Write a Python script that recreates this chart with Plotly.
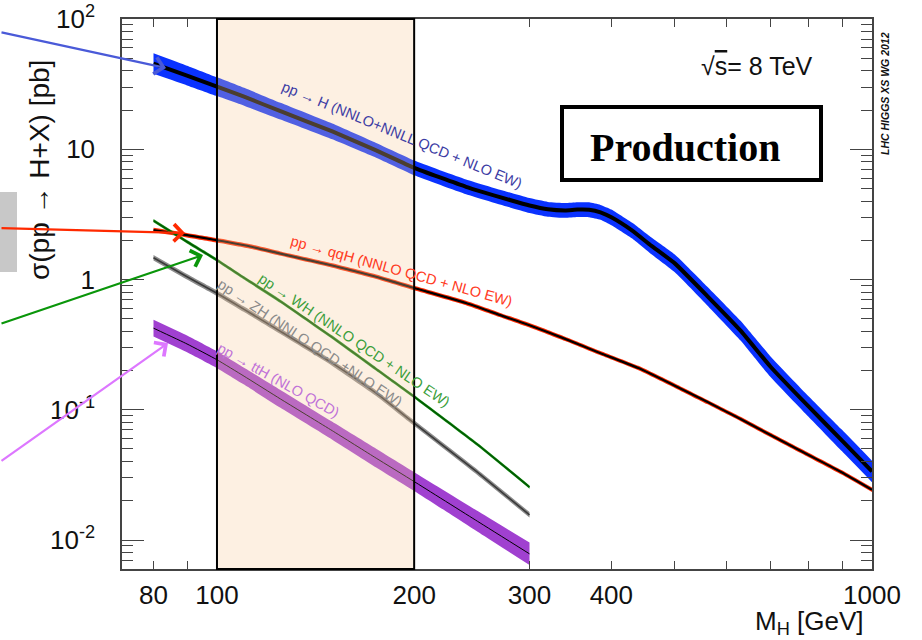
import plotly.graph_objects as go

# ---------------- data ----------------
ggF_m = [80, 90, 100, 110, 125, 150, 175, 200, 240, 280, 300, 320, 340, 355, 370, 385,
         400, 430, 460, 500, 560, 630, 700, 800, 900, 1000]
ggF_xs = [45.5, 36.8, 30.2, 25.3, 19.6, 13.7, 9.8, 7.2, 5.15, 4.08, 3.7, 3.46, 3.39,
          3.44, 3.43, 3.28, 3.0, 2.38, 1.82, 1.33, 0.75, 0.405, 0.214, 0.106, 0.058, 0.0336]
ggF_unc = [20, 19, 18, 17, 16, 15, 14, 14, 14, 14, 14, 14, 14, 14, 14, 14,
           15, 15, 16, 17, 18, 19, 20, 20, 21, 21]

qqH_m = [80, 90, 100, 112, 125, 150, 175, 200, 240, 270, 300, 340, 385, 440, 500,
         560, 630, 700, 800, 900, 1000]
qqH_xs = [2.40, 2.19, 2.00, 1.80, 1.58, 1.28, 1.05, 0.86, 0.66, 0.535, 0.445, 0.35,
          0.272, 0.209, 0.153, 0.115, 0.085, 0.064, 0.045, 0.033, 0.0243]
qqH_unc = [4] * len(qqH_m)

VH_m = [80, 90, 100, 110, 125, 150, 175, 200, 250, 300]
WH_xs = [2.83, 1.95, 1.41, 1.03, 0.68, 0.36, 0.205, 0.126, 0.054, 0.0255]
WH_unc = [3] * len(VH_m)
ZH_xs = [1.47, 1.05, 0.785, 0.59, 0.40, 0.228, 0.134, 0.079, 0.033, 0.0156]
ZH_unc = [5] * len(VH_m)

ttH_m = [80, 90, 100, 110, 125, 150, 175, 200, 250, 300]
ttH_xs = [0.423, 0.32, 0.242, 0.181, 0.121, 0.069, 0.0425, 0.0281, 0.0139, 0.00783]
ttH_unc = [16, 16, 16, 16, 17, 17, 18, 18, 20, 22]

x_tickvals = [80, 100, 200, 300, 400, 1000]
x_ticktext = ["80", "100", "200", "300", "400", "1000"]
x_minor_ticks = [90, 500, 600, 700, 800, 900]
y_tickvals = [0.01, 0.1, 1, 10, 100]
y_ticktext = ["10<sup>-2</sup>", "10<sup>-1</sup>", "1", "10", "10<sup>2</sup>"]

window_lo, window_hi = 100, 200

# ---------------- layout geometry ----------------
W, H = 922, 640
ML, MR, MT, MB = 122, 50, 19, 71
PW, PH = W - ML - MR, H - MT - MB


def px(x):
    return (x - ML) / PW


def py(y):
    return (H - MB - y) / PH


FONT = "Liberation Sans, Arial, Helvetica, sans-serif"
AXC = "#444444"

fig = go.Figure()


def add_band(m, v, unc, band_color, line_color, line_width):
    up = [a * (1 + u / 100.0) for a, u in zip(v, unc)]
    lo = [a / (1 + u / 100.0) for a, u in zip(v, unc)]
    sm = dict(shape="spline", smoothing=0.4)
    fig.add_trace(go.Scatter(x=m, y=lo, mode="lines",
                             line=dict(width=0, color=band_color, **sm),
                             hoverinfo="skip", showlegend=False))
    fig.add_trace(go.Scatter(x=m, y=up, mode="lines",
                             line=dict(width=0, color=band_color, **sm),
                             fill="tonexty", fillcolor=band_color, hoverinfo="skip",
                             showlegend=False))
    fig.add_trace(go.Scatter(x=m, y=v, mode="lines",
                             line=dict(color=line_color, width=line_width, **sm),
                             showlegend=False))


add_band(ggF_m, ggF_xs, ggF_unc, "#0a32ff", "#000000", 4)
add_band(qqH_m, qqH_xs, qqH_unc, "#ff2a00", "#000000", 2.2)
add_band(VH_m, WH_xs, WH_unc, "#1f9a1f", "#005a00", 1.6)
add_band(VH_m, ZH_xs, ZH_unc, "#8c8c8c", "#3a3a3a", 1.6)
add_band(ttH_m, ttH_xs, ttH_unc, "#a040d0", "#000000", 1)

# invisible carriers for the extra (unlabelled) tick axes
fig.add_trace(go.Scatter(x=[window_lo], y=[1], yaxis="y2", mode="markers",
                         marker=dict(opacity=0), hoverinfo="skip", showlegend=False))
fig.add_trace(go.Scatter(x=[window_lo], y=[1], xaxis="x2", mode="markers",
                         marker=dict(opacity=0), hoverinfo="skip", showlegend=False))

minor_y = []
for dec in [0.001, 0.01, 0.1, 1, 10]:
    for k in range(2, 10):
        val = k * dec
        if 0.006 <= val <= 100:
            minor_y.append(val)

XR = [1.855, 3.0]
YR = [-2.2226, 2.0]

common = dict(showline=True, linecolor=AXC, linewidth=1.5, mirror="ticks", ticks="inside",
              tickcolor=AXC, showgrid=False, zeroline=False, automargin=False)

fig.update_layout(
    template="none",
    width=W, height=H, autosize=False,
    margin=dict(l=ML, r=MR, t=MT, b=MB, pad=0),
    paper_bgcolor="white", plot_bgcolor="white",
    xaxis=dict(type="log", range=XR, tickmode="array", tickvals=x_tickvals,
               ticktext=x_ticktext, tickangle=0, ticklen=8, tickwidth=1.3,
               ticklabelstandoff=2, tickfont=dict(family=FONT, size=26, color="#111111"),
               **common),
    xaxis2=dict(type="log", range=XR, overlaying="x", side="bottom", tickmode="array",
                tickvals=x_minor_ticks, ticklen=8, tickwidth=1.3, showticklabels=False,
                **common),
    yaxis=dict(type="log", range=YR, tickmode="array", tickvals=y_tickvals,
               ticktext=y_ticktext, ticklen=22, tickwidth=1.3, ticklabelstandoff=20,
               tickfont=dict(family=FONT, size=26, color="#111111"), **common),
    yaxis2=dict(type="log", range=YR, overlaying="y", side="left", tickmode="array",
                tickvals=minor_y, ticklen=11, tickwidth=1.3, showticklabels=False,
                **common),
)

# mass window overlay
fig.add_shape(type="rect", xref="x", yref="paper", x0=window_lo, x1=window_hi, y0=0, y1=1,
              fillcolor="rgba(250,205,160,0.30)", line=dict(color="black", width=2),
              layer="above")

# Production box
fig.add_shape(type="rect", xref="paper", yref="paper", x0=px(562), x1=px(821),
              y0=py(180), y1=py(107), line=dict(color="black", width=4),
              fillcolor="white", layer="above")

# grey block at left edge
fig.add_shape(type="rect", xref="paper", yref="paper", x0=px(0), x1=px(17),
              y0=py(272), y1=py(192), line=dict(width=0), fillcolor="#c8c8c8")

ann = []


def text(x, y, s, size, color="#111111", angle=0, family=FONT, xanchor="center",
         yanchor="middle"):
    ann.append(dict(xref="paper", yref="paper", x=px(x), y=py(y), text=s, showarrow=False,
                    textangle=angle, xanchor=xanchor, yanchor=yanchor,
                    font=dict(family=family, size=size, color=color)))


text(685, 147, "<b>Production</b>", 40, "black",
     family="Liberation Serif, Times New Roman, serif")
text(757, 66, "√<span style='text-decoration:overline'>s</span>= 8 TeV", 25, "#111111")
text(885, 94, "<b><i>LHC HIGGS XS WG 2012</i></b>", 10.5, "#111111", angle=-90)
text(39, 170, "σ(pp → H+X) [pb]", 28, "#111111", angle=-90)
text(866, 622, "M<sub>H</sub> [GeV]", 26, "#111111", xanchor="right")

text(402, 135, "pp → H (NNLO+NNLL QCD + NLO EW)", 14.5, "#3c3ca4", angle=22.4)
text(401, 271, "pp → qqH (NNLO QCD + NLO EW)", 14.5, "#ff3a22", angle=15.5)
text(354, 340, "pp → WH (NNLO QCD + NLO EW)", 14.5, "#3a9e3a", angle=34.0)
text(310, 343, "pp → ZH (NNLO QCD +NLO EW)", 14.5, "#8a8a8a", angle=33.6)
text(278, 380, "pp → ttH (NLO QCD)", 14.5, "#c070d8", angle=29.2)


def arrow(x0, y0, x1, y1, color):
    ann.append(dict(xref="paper", yref="paper", x=px(x1), y=py(y1), ax=x0 - x1, ay=y0 - y1,
                    axref="pixel", ayref="pixel", text="", showarrow=True, arrowhead=4,
                    arrowsize=1.5, arrowwidth=2.2, arrowcolor=color))


arrow(0, 32, 166, 68, "#4a5ad8")
arrow(0, 228, 185, 233, "#ff2a00")
arrow(0, 324, 203, 255, "#0a960a")
arrow(0, 462, 168, 343, "#dd77ff")

fig.update_layout(annotations=ann)

fig.write_html("out.html", config={"displayModeBar": False},
               post_script="document.body.style.margin='0px';"
                           "document.body.style.overflow='hidden';")
